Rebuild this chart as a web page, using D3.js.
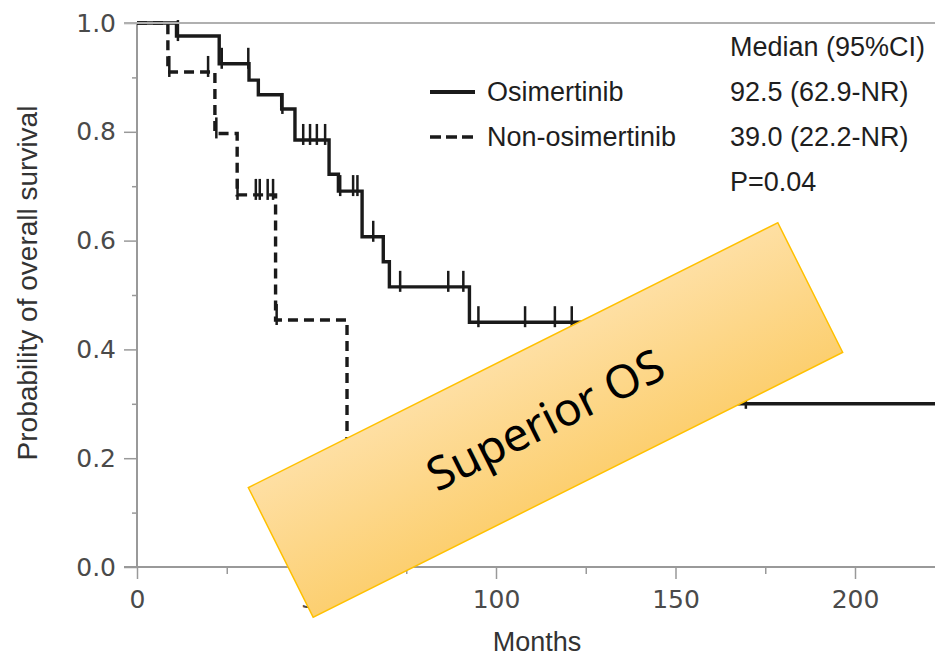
<!DOCTYPE html>
<html>
  <head>
    <meta charset="utf-8" />
    <style>
      body { margin: 0; background: #fff; }
      .tick text { font: 25px "DejaVu Sans", sans-serif; fill: #4a4a4a; }
      .lbl { font: 27px "Liberation Sans", Arial, sans-serif; fill: #1e1e1e; }
      .censor line { stroke: #1a1a1a; stroke-width: 2.5; }
    </style>
  </head>
  <body>
    <svg width="935" height="658"></svg>
    <script src="https://d3js.org/d3.v7.min.js"></script>
    <script>
      // Kaplan-Meier data (months, survival probability)
      var osiTimes = [0, 11.0, 22.9, 31.2, 33.8, 40.3, 44.0, 53.5, 56.1, 62.7, 68.6, 70.3, 92.6, 130.0, 225];
      var osiSurv = [1.0, 0.976, 0.925, 0.895, 0.868, 0.842, 0.785, 0.722, 0.691, 0.607, 0.561, 0.515, 0.45, 0.3, 0.3];
      var osiCensor = [11.4, 23.6, 31.0, 40.5, 46.3, 48.2, 50.1, 52.4, 56.6, 60.2, 61.4, 65.8, 73.3, 86.7, 90.9, 95.1, 108.1, 116.4, 121.1, 169.6];

      var nonTimes = [0, 8.6, 21.7, 27.9, 38.6, 58.5, 65];
      var nonSurv = [1.0, 0.91, 0.797, 0.684, 0.454, 0.227, 0.227];
      var nonCensor = [9.0, 19.8, 22.1, 28.0, 33.1, 34.2, 36.4, 37.9, 38.9];

      var xTicks = [0, 50, 100, 150, 200];
      var xMinor = [25, 75, 125, 175, 225];
      var yTicks = [0, 0.2, 0.4, 0.6, 0.8, 1.0];
      var yMinor = [0.1, 0.3, 0.5, 0.7, 0.9];

      var legendNames = ["Osimertinib", "Non-osimertinib"];
      var legendStats = ["Median (95%CI)", "92.5 (62.9-NR)", "39.0 (22.2-NR)", "P=0.04"];

      var svg = d3.select("svg");
      var x = d3.scaleLinear().domain([0, 200]).range([137, 855]);
      var y = d3.scaleLinear().domain([0, 1]).range([567, 23]);
      var axisColor = "#999";

      // axes
      svg.append("g").attr("transform", "translate(0," + y(0) + ")")
        .call(d3.axisBottom(x).tickValues(xTicks).tickSize(12).tickPadding(11).tickFormat(d3.format("d")));
      svg.append("g").attr("transform", "translate(0," + y(0) + ")")
        .call(d3.axisBottom(x).tickValues(xMinor).tickSize(7).tickFormat(""));
      svg.append("g").attr("transform", "translate(" + x(0) + ",0)")
        .call(d3.axisLeft(y).tickValues(yTicks).tickSize(13).tickPadding(8).tickFormat(d3.format(".1f")));
      svg.append("g").attr("transform", "translate(" + x(0) + ",0)")
        .call(d3.axisLeft(y).tickValues(yMinor).tickSize(5).tickFormat(""));
      svg.selectAll(".domain").remove();
      svg.selectAll(".tick line").attr("stroke", axisColor).attr("stroke-width", 1.5);

      // frame lines
      svg.append("line").attr("x1", x(0)).attr("x2", x(0)).attr("y1", y(1)).attr("y2", y(0))
        .attr("stroke", axisColor).attr("stroke-width", 2);
      svg.append("line").attr("x1", x(0) - 13).attr("x2", 935).attr("y1", y(0)).attr("y2", y(0))
        .attr("stroke", axisColor).attr("stroke-width", 2);

      // curves
      function km(times, surv) {
        return times.map(function (t, i) { return [t, surv[i]]; });
      }
      function survAt(times, surv, t) {
        var s = surv[0];
        times.forEach(function (tt, i) { if (tt <= t) s = surv[i]; });
        return s;
      }
      var line = d3.line()
        .x(function (d) { return x(d[0]); })
        .y(function (d) { return y(d[1]); })
        .curve(d3.curveStepAfter);

      svg.append("path").datum(km(osiTimes, osiSurv)).attr("d", line)
        .attr("fill", "none").attr("stroke", "#1a1a1a").attr("stroke-width", 3.4);
      svg.append("path").datum(km(nonTimes, nonSurv)).attr("d", line)
        .attr("fill", "none").attr("stroke", "#1a1a1a").attr("stroke-width", 3.4)
        .attr("stroke-dasharray", "10,6");

      function censors(times, surv, marks) {
        svg.append("g").attr("class", "censor").selectAll("line").data(marks).enter()
          .append("line")
          .attr("x1", function (d) { return x(d); })
          .attr("x2", function (d) { return x(d); })
          .attr("y1", function (d) { return y(survAt(times, surv, d)) - 16; })
          .attr("y2", function (d) { return y(survAt(times, surv, d)) + 5; });
      }
      censors(osiTimes, osiSurv, osiCensor);
      censors(nonTimes, nonSurv, nonCensor);

      // top frame line
      svg.append("line").attr("x1", x(0) - 13).attr("x2", 935).attr("y1", y(1)).attr("y2", y(1))
        .attr("stroke", "#b0b0b0").attr("stroke-width", 2);

      // axis titles
      svg.append("text").attr("class", "lbl").attr("x", 537).attr("y", 651)
        .attr("text-anchor", "middle").style("font-size", "27px").style("fill", "#333").text("Months");
      svg.append("text").attr("class", "lbl")
        .attr("transform", "translate(37,283) rotate(-90)")
        .attr("text-anchor", "middle").style("font-size", "28px").style("fill", "#333")
        .text("Probability of overall survival");

      // legend
      var leg = svg.append("g");
      leg.append("line").attr("x1", 430).attr("x2", 475).attr("y1", 92).attr("y2", 92)
        .attr("stroke", "#1a1a1a").attr("stroke-width", 4);
      leg.append("line").attr("x1", 430).attr("x2", 475).attr("y1", 137).attr("y2", 137)
        .attr("stroke", "#1a1a1a").attr("stroke-width", 3.5).attr("stroke-dasharray", "11,5");
      leg.selectAll("text.name").data(legendNames).enter().append("text")
        .attr("class", "lbl name").attr("x", 487)
        .attr("y", function (d, i) { return 101 + i * 45; }).text(function (d) { return d; });
      leg.selectAll("text.stat").data(legendStats).enter().append("text")
        .attr("class", "lbl stat").attr("x", 730)
        .attr("y", function (d, i) { return 56 + i * 45; }).text(function (d) { return d; });

      // callout box
      var grad = svg.append("defs").append("linearGradient").attr("id", "gold")
        .attr("x1", 0).attr("y1", 0).attr("x2", 0).attr("y2", 1);
      grad.append("stop").attr("offset", "0%").attr("stop-color", "#fedfa3");
      grad.append("stop").attr("offset", "100%").attr("stop-color", "#fccf70");
      var box = svg.append("g").attr("transform", "translate(545.5,420) rotate(-26.57)");
      box.append("rect").attr("x", -296).attr("y", -72.5).attr("width", 592).attr("height", 145)
        .attr("fill", "url(#gold)").attr("stroke", "#ffc000").attr("stroke-width", 1.5);
      box.append("text").attr("x", 0).attr("y", 0).attr("dy", "0.35em")
        .attr("text-anchor", "middle")
        .style("font", "46px 'Noto Sans', 'Open Sans', sans-serif").style("fill", "#000")
        .text("Superior OS");
    </script>
  </body>
</html>
